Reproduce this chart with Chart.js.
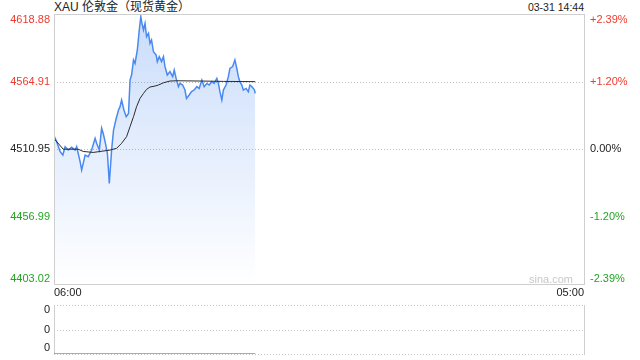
<!DOCTYPE html>
<html>
<head>
<meta charset="utf-8">
<script src="https://cdn.jsdelivr.net/npm/chart.js@4"></script>
<style>
html,body{margin:0;padding:0;background:#fff;}
body{width:640px;height:360px;position:relative;overflow:hidden;font-family:"Liberation Sans","Noto Sans CJK SC",Arial,sans-serif;}
#title{position:absolute;left:54px;top:0;font-size:12px;line-height:15px;color:#222;white-space:nowrap;}
#stamp{position:absolute;right:56px;top:1px;font-size:10.5px;line-height:13px;color:#222;white-space:nowrap;}
#main{position:absolute;left:0;top:0;}
#vol{position:absolute;left:0;top:300px;}
</style>
</head>
<body>
<div id="title"></div>
<div id="stamp"></div>
<canvas id="main" width="640" height="300"></canvas>
<canvas id="vol" width="640" height="60"></canvas>
<script>
// ---- chart text ----
const titleText = 'XAU 伦敦金（现货黄金）';
const stampText = '03-31 14:44';
const watermark = 'sina.com';

// ---- axis ticks ----
const priceTicks = [4618.88, 4564.91, 4510.95, 4456.99, 4403.02];
const pctTicks = ['+2.39%', '+1.20%', '0.00%', '-1.20%', '-2.39%'];
const timeTickLabels = ['06:00', '05:00'];
const timeTickMinutes = [0, 1380];      // minutes after 06:00
const volTickLabels = ['0', '0', '0'];

// ---- price series (minutes after 06:00) ----
const minutes = [1,7,16,23,29,37,46,55,59,63,68,72,76,81,89,98,107,111,118,124,128,133,139,144,150,155,161,168,172,176,182,188,194,198,202,207,211,217,222,226,229,233,237,241,246,250,254,259,266,269,274,280,285,289,295,302,309,313,318,324,328,335,341,345,352,358,365,372,378,385,391,398,404,411,417,424,428,432,437,441,448,454,458,465,471,476,480,484,489,493,500,506,510,515,519,522,524];
const prices = [4520.8,4516.8,4508.8,4506.1,4512.8,4510.1,4512.3,4510.1,4512.8,4507.5,4500.8,4494.1,4499.5,4506.1,4504.8,4510.1,4519.5,4515.5,4510.1,4527.5,4523.5,4516.8,4507.5,4483.5,4510.1,4526.1,4534.1,4542.1,4544.8,4550.1,4542.1,4536.8,4539.4,4566.1,4570.1,4582.1,4579.4,4590.1,4606.1,4616.7,4611.4,4606.1,4611.4,4600.7,4603.4,4595.4,4598.1,4588.7,4586.1,4580.8,4584.8,4580.8,4584.8,4576.8,4570.1,4572.8,4568.8,4574.1,4567.4,4560.8,4563.4,4562.1,4558.1,4551.4,4554.1,4556.8,4558.1,4560.8,4559.4,4566.1,4560.8,4563.4,4562.1,4564.8,4563.4,4567.4,4563.4,4556.8,4550.1,4558.1,4562.1,4568.8,4575.4,4576.8,4582.1,4575.4,4568.8,4564.8,4562.1,4558.1,4559.4,4556.8,4562.1,4560.8,4559.4,4558.1,4555.4];

// ---- average price series ----
const avgMinutes = [1,24,63,76,102,146,163,176,189,198,207,215,224,233,241,250,263,272,285,302,319,380,441,524];
const avgPrices = [4519.0,4510.8,4510.8,4509.0,4508.2,4510.1,4511.5,4515.5,4520.8,4528.8,4536.8,4544.8,4551.4,4555.4,4558.6,4560.5,4561.3,4562.1,4563.9,4565.3,4565.5,4565.3,4565.0,4564.8];

// ---- volume series ----
const volMinutes = [0, 524];
const volumes = [0, 0];

document.getElementById('title').textContent = titleText;
document.getElementById('stamp').textContent = stampText;

const FONT = '"Liberation Sans", Arial, sans-serif';
const RED = '#ee3b2e', GREEN = '#22a522', BLACK = '#222', GRID = '#cfcfcf';
const baseValue = priceTicks[2];
function tickColor(v){ return v > baseValue ? RED : (v < baseValue ? GREEN : BLACK); }

const pts = (xs, ys) => xs.map((x, i) => ({x: x, y: ys[i]}));

function hLine(ctx, x1, x2, y, dashed, color){
  ctx.save();
  ctx.strokeStyle = color; ctx.lineWidth = 1;
  if (dashed) ctx.setLineDash([1, 2]);
  ctx.beginPath(); ctx.moveTo(x1, y + 0.5); ctx.lineTo(x2, y + 0.5); ctx.stroke();
  ctx.restore();
}

const mainPlugin = {
  id: 'mainDecor',
  beforeDatasetsDraw(chart){
    const {ctx, chartArea: a, scales} = chart;
    [priceTicks[1], priceTicks[2]].forEach(v => {
      hLine(ctx, a.left, a.right, Math.round(scales.y.getPixelForValue(v)), true, '#bdbdbd');
    });
    ctx.save();
    ctx.font = '11px ' + FONT; ctx.fillStyle = '#c8c8c8';
    ctx.textAlign = 'right'; ctx.textBaseline = 'middle';
    ctx.fillText(watermark, a.right - 11, a.bottom - 4);
    ctx.restore();
  },
  afterDatasetsDraw(chart){
    const {ctx, chartArea: a, scales} = chart;
    ctx.save();
    ctx.strokeStyle = GRID; ctx.lineWidth = 1;
    ctx.strokeRect(Math.round(a.left) + 0.5, Math.round(a.top) + 0.5, Math.round(a.right - a.left), Math.round(a.bottom - a.top));
    ctx.font = '11px ' + FONT; ctx.textBaseline = 'middle';
    const n = priceTicks.length;
    priceTicks.forEach((v, i) => {
      let y = scales.y.getPixelForValue(v);
      if (i === 0) y += 6; else if (i === n - 1) y -= 5;
      ctx.fillStyle = tickColor(v);
      ctx.textAlign = 'right';
      ctx.fillText(v.toFixed(2), a.left - 4, y);
      ctx.textAlign = 'left';
      ctx.fillText(pctTicks[i], a.right + 6, y);
    });
    ctx.fillStyle = BLACK;
    timeTickMinutes.forEach((m, i) => {
      const x = scales.x.getPixelForValue(m);
      ctx.textAlign = i === 0 ? 'left' : 'right';
      ctx.fillText(timeTickLabels[i], x, a.bottom + 9);
    });
    ctx.restore();
  }
};

new Chart(document.getElementById('main'), {
  type: 'line',
  data: {
    datasets: [
      {
        label: 'avg',
        data: pts(avgMinutes, avgPrices),
        borderColor: '#2b2b2b', borderWidth: 1, pointRadius: 0, fill: false, tension: 0
      },
      {
        label: 'price',
        data: pts(minutes, prices),
        borderColor: '#4a89f0', borderWidth: 1.5, pointRadius: 0, tension: 0,
        fill: 'start',
        backgroundColor: (context) => {
          const {ctx, chartArea} = context.chart;
          if (!chartArea) return 'rgba(77,140,240,0.15)';
          const g = ctx.createLinearGradient(0, chartArea.top, 0, chartArea.bottom);
          g.addColorStop(0, 'rgba(77,140,240,0.30)');
          g.addColorStop(1, 'rgba(77,140,240,0.0)');
          return g;
        }
      }
    ]
  },
  options: {
    responsive: false, animation: false, devicePixelRatio: 1,
    layout: {padding: {left: 54, right: 56, top: 14, bottom: 16}},
    plugins: {legend: {display: false}, tooltip: {enabled: false}},
    scales: {
      x: {type: 'linear', min: timeTickMinutes[0], max: timeTickMinutes[1], display: false},
      y: {type: 'linear', min: priceTicks[priceTicks.length - 1], max: priceTicks[0], display: false}
    }
  },
  plugins: [mainPlugin]
});

const volPlugin = {
  id: 'volDecor',
  beforeDatasetsDraw(chart){
    const {ctx, chartArea: a, scales} = chart;
    const vals = [1, 0.5, 0];
    vals.forEach(v => hLine(ctx, a.left, a.right, Math.round(scales.y.getPixelForValue(v)), true, '#c4c4c4'));
    ctx.save();
    ctx.strokeStyle = GRID; ctx.lineWidth = 1;
    ctx.beginPath();
    ctx.moveTo(Math.round(a.left) + 0.5, Math.round(a.top)); ctx.lineTo(Math.round(a.left) + 0.5, Math.round(a.bottom) + 1);
    ctx.moveTo(Math.round(a.right) + 0.5, Math.round(a.top)); ctx.lineTo(Math.round(a.right) + 0.5, Math.round(a.bottom) + 1);
    ctx.stroke();
    ctx.font = '11px ' + FONT; ctx.fillStyle = BLACK;
    ctx.textAlign = 'right'; ctx.textBaseline = 'middle';
    vals.forEach((v, i) => {
      let y = scales.y.getPixelForValue(v);
      if (i === 0) y += 5; else if (i === vals.length - 1) y -= 6;
      ctx.fillText(volTickLabels[i], a.left - 4, y);
    });
    ctx.restore();
  }
};

new Chart(document.getElementById('vol'), {
  type: 'line',
  data: {
    datasets: [{
      label: 'volume',
      data: pts(volMinutes, volumes),
      borderColor: '#555', borderWidth: 1, pointRadius: 0, fill: false
    }]
  },
  options: {
    responsive: false, animation: false, devicePixelRatio: 1,
    layout: {padding: {left: 54, right: 56, top: 5, bottom: 6}},
    plugins: {legend: {display: false}, tooltip: {enabled: false}},
    scales: {
      x: {type: 'linear', min: timeTickMinutes[0], max: timeTickMinutes[1], display: false},
      y: {type: 'linear', min: 0, max: 1, display: false}
    }
  },
  plugins: [volPlugin]
});
</script>
</body>
</html>
